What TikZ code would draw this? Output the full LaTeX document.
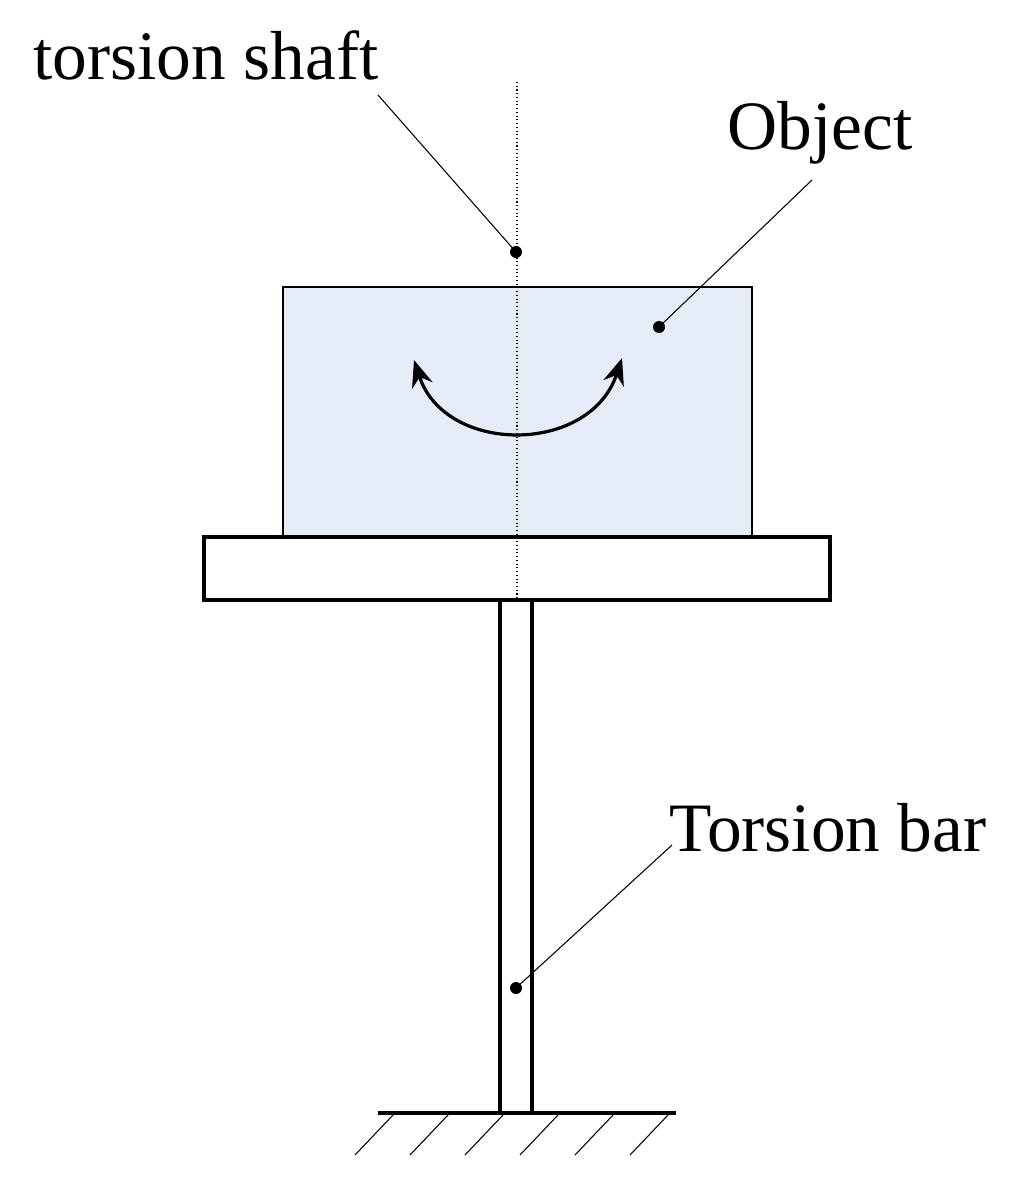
\documentclass[tikz,border=0pt]{standalone}
\usepackage{fontspec}
\setmainfont{Liberation Serif}
\usetikzlibrary{arrows.meta}
\begin{document}
\begin{tikzpicture}[x=0.75pt,y=-0.75pt,
  thick3/.style={line width=2.4pt},
  lead/.style={line width=0.8pt},
  lbl/.style={font=\fontsize{52}{58}\selectfont, inner sep=0pt},
  dotc/.style={circle,fill=black,inner sep=0pt,minimum size=9pt}]
\useasboundingbox (0,0) rectangle (1009,1191);
\draw[fill={rgb,255:red,230;green,236;blue,247}, line width=1pt] (283,287) rectangle (752,537);
\draw[thick3] (204,537) rectangle (830,600);
\draw[thick3] (500,600) rectangle (532,1113);
\draw[thick3] (378,1113) -- (676,1113);
\foreach \x in {355,410,465,520,575,630} \draw[lead] (\x,1155) -- (\x+38,1115);
\draw[dotted, line width=0.8pt] (517,82) -- (517,598);
\draw[line width=2.4pt, {Stealth[length=20pt,width=16pt]}-{Stealth[length=20pt,width=16pt]}] (414,360) .. controls (445,455) and (590,455) .. (622,358);
\node[dotc] (d1) at (516,252) {};
\node[dotc] (d2) at (659,327) {};
\node[dotc] (d3) at (516,988) {};
\node[lbl] (t1) at (206,55) {torsion shaft};
\node[lbl] (t2) at (820,133) {Object};
\node[lbl] (t3) at (828,828) {Torsion bar};
\coordinate (c1) at (378,95);
\coordinate (c2) at (812,180);
\coordinate (c3) at (672,845);
\draw[lead] (c1) -- (d1.center);
\draw[lead] (c2) -- (d2.center);
\draw[lead] (c3) -- (d3.center);
\end{tikzpicture}
\end{document}
